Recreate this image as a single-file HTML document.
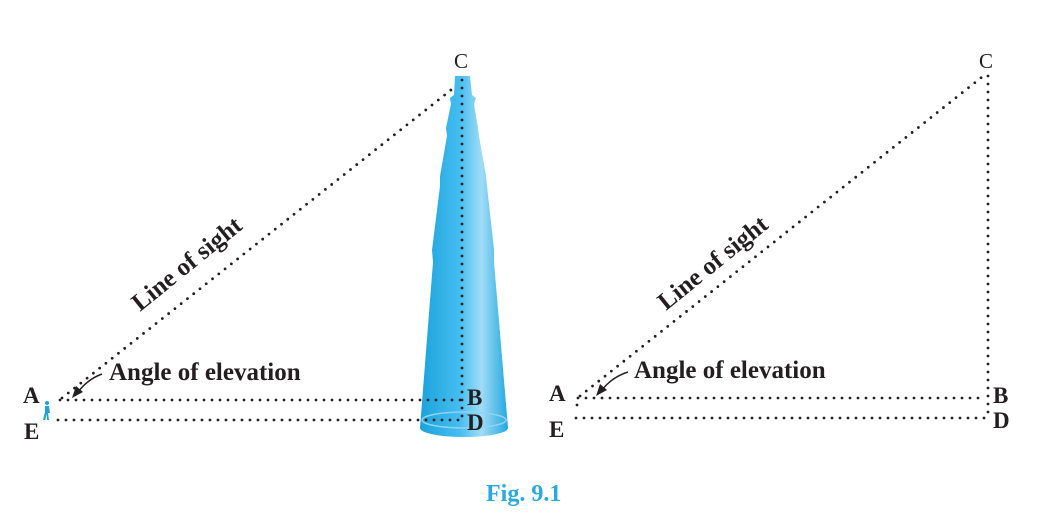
<!DOCTYPE html>
<html><head><meta charset="utf-8"><style>
html,body{margin:0;padding:0;background:#fff;}
svg{display:block;}
.lbl{font-family:"Liberation Serif",serif;font-weight:bold;font-size:23px;fill:#231f20;}
.big{font-size:25px;}
.lblc{font-family:"Liberation Serif",serif;font-size:21px;fill:#231f20;}
.dot{stroke:#231f20;stroke-width:2.8;stroke-linecap:round;stroke-dasharray:0 8;fill:none;}
</style></head><body>
<svg width="1037" height="518" viewBox="0 0 1037 518">
<defs>
<linearGradient id="tg" x1="0" x2="1" y1="0" y2="0">
<stop offset="0" stop-color="#1aa3dc"/><stop offset="0.45" stop-color="#45bdf0"/><stop offset="0.7" stop-color="#9fdcf5"/><stop offset="1" stop-color="#22a8e0"/>
</linearGradient>
</defs>
<g>
<path d="M455,76 L470,76 L472,95 L476,98 L474,104 L478,128 L479,136 L486,176 L487,186 L494,250 L494,262 L508,428 A44,9 0 0 1 420,428 L433,262 L432,250 L440,186 L440,176 L447,136 L446,128 L451,104 L450,98 L454,95 Z" fill="url(#tg)"/>
<ellipse cx="464" cy="420" rx="42" ry="8" fill="none" stroke="#8fd3f2" stroke-width="1.5"/>
</g>
<g fill="#1aa3dc">
<circle cx="47" cy="403" r="2"/>
<path d="M45,406 L49,406 L50,413 L48,413 L49,420 L47,420 L47,414 L45,420 L43,420 L45,412 Z"/>
</g>
<g>
<line class="dot" x1="60" y1="400" x2="462" y2="400"/>
<line class="dot" x1="58" y1="420" x2="462" y2="420"/>
<line class="dot" x1="62" y1="398" x2="456" y2="86"/>
<line class="dot" x1="462" y1="80" x2="462" y2="420"/>
<text class="lblc" x="454" y="68">C</text>
<text class="lbl" x="23" y="403">A</text>
<text class="lbl" x="24" y="439">E</text>
<text class="lbl" x="467" y="405">B</text>
<text class="lbl" x="467" y="430">D</text>
<text class="lbl big" transform="translate(140,312) rotate(-39)">Line of sight</text>
<text class="lbl big" x="109" y="380">Angle of elevation</text>
<path d="M102,374 Q88,379 78,392" stroke="#231f20" stroke-width="1.5" fill="none"/>
<path d="M72,398 L76,386 L83,392 Z" fill="#231f20"/>
</g>
<g>
<line class="dot" x1="578" y1="398" x2="986" y2="398"/>
<line class="dot" x1="576" y1="418" x2="986" y2="418"/>
<line class="dot" x1="577" y1="405" x2="577" y2="398"/>
<line class="dot" x1="580" y1="396" x2="982" y2="77"/>
<line class="dot" x1="988" y1="76" x2="988" y2="418"/>
<text class="lblc" x="979" y="68">C</text>
<text class="lbl" x="549" y="401">A</text>
<text class="lbl" x="549" y="437">E</text>
<text class="lbl" x="993" y="403">B</text>
<text class="lbl" x="993" y="428">D</text>
<text class="lbl big" transform="translate(666,311) rotate(-39)">Line of sight</text>
<text class="lbl big" x="634" y="378">Angle of elevation</text>
<path d="M628,372 Q612,377 602,390" stroke="#231f20" stroke-width="1.5" fill="none"/>
<path d="M596,396 L600,384 L607,390 Z" fill="#231f20"/>
</g>
<text x="486" y="501" style="font-family:'Liberation Serif',serif;font-weight:bold;font-size:24px;fill:#29a9e0">Fig. 9.1</text>
</svg>
</body></html>
